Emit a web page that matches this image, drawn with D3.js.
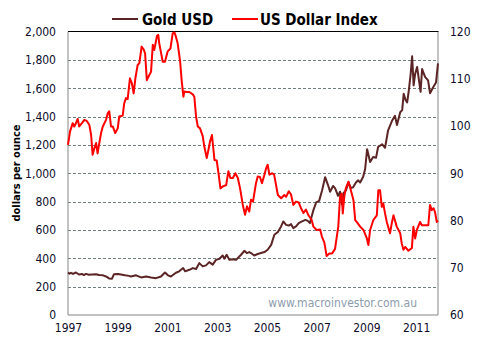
<!DOCTYPE html>
<html><head><meta charset="utf-8">
<script src="https://cdn.jsdelivr.net/npm/d3@7"></script>
<style>
html,body{margin:0;padding:0;background:#fff;}
svg text{font-family:"DejaVu Sans Condensed","DejaVu Sans",sans-serif;}
</style></head>
<body><svg id="c" width="484" height="345"></svg>
<script>
const goldDates = [1997.00,1997.06,1997.12,1997.20,1997.32,1997.44,1997.56,1997.64,1997.72,1997.84,1997.97,1998.13,1998.25,1998.41,1998.53,1998.65,1998.77,1998.85,1999.01,1999.13,1999.29,1999.45,1999.53,1999.74,1999.94,2000.14,2000.34,2000.54,2000.74,2000.90,2001.02,2001.14,2001.34,2001.47,2001.63,2001.71,2001.88,2002.02,2002.15,2002.28,2002.42,2002.55,2002.68,2002.82,2002.95,2003.09,2003.22,2003.29,2003.38,2003.49,2003.63,2003.76,2003.89,2003.96,2004.09,2004.19,2004.29,2004.36,2004.49,2004.63,2004.76,2004.90,2005.03,2005.17,2005.30,2005.44,2005.57,2005.66,2005.77,2005.88,2005.97,2006.06,2006.17,2006.28,2006.41,2006.55,2006.64,2006.73,2006.79,2006.87,2006.98,2007.10,2007.22,2007.34,2007.46,2007.54,2007.66,2007.74,2007.86,2007.94,2008.01,2008.08,2008.18,2008.28,2008.38,2008.46,2008.58,2008.67,2008.75,2008.87,2008.95,2009.03,2009.15,2009.27,2009.39,2009.47,2009.63,2009.75,2009.87,2010.03,2010.15,2010.23,2010.36,2010.44,2010.50,2010.58,2010.64,2010.70,2010.78,2010.84,2010.90,2010.96,2011.04,2011.12,2011.18,2011.24,2011.36,2011.48,2011.56,2011.68,2011.80,2011.88];
const goldValues = [300,292,298,290,300,286,290,282,290,284,286,288,282,280,272,258,256,288,290,286,280,276,272,280,265,272,265,260,272,300,280,272,298,308,331,308,319,331,324,366,343,350,373,355,389,397,420,397,425,389,394,389,413,425,453,437,444,437,420,430,437,444,460,495,566,585,625,660,636,631,641,613,625,648,660,671,664,648,690,740,795,805,880,972,915,870,910,895,840,870,780,860,880,935,895,900,935,950,935,975,1030,1170,1080,1115,1110,1185,1205,1180,1300,1370,1405,1340,1430,1445,1560,1515,1500,1575,1700,1825,1620,1700,1750,1650,1575,1735,1680,1655,1565,1605,1640,1775];

const usdDates = [1997.00,1997.08,1997.19,1997.25,1997.32,1997.39,1997.45,1997.56,1997.66,1997.75,1997.86,1997.93,1997.99,1998.06,1998.13,1998.19,1998.26,1998.33,1998.40,1998.53,1998.60,1998.66,1998.73,1998.80,1998.90,1999.00,1999.06,1999.20,1999.26,1999.33,1999.40,1999.49,1999.57,1999.64,1999.71,1999.80,1999.87,1999.96,2000.05,2000.10,2000.17,2000.27,2000.34,2000.41,2000.47,2000.58,2000.63,2000.67,2000.81,2000.90,2001.01,2001.12,2001.21,2001.28,2001.34,2001.41,2001.51,2001.57,2001.64,2001.68,2001.78,2001.88,2002.02,2002.08,2002.15,2002.22,2002.31,2002.42,2002.48,2002.58,2002.66,2002.71,2002.79,2002.89,2002.98,2003.06,2003.13,2003.22,2003.36,2003.45,2003.53,2003.63,2003.73,2003.83,2003.92,2004.03,2004.12,2004.20,2004.29,2004.36,2004.44,2004.56,2004.63,2004.72,2004.80,2004.90,2004.97,2005.03,2005.10,2005.21,2005.29,2005.44,2005.57,2005.70,2005.77,2005.88,2005.97,2006.06,2006.17,2006.28,2006.37,2006.47,2006.57,2006.67,2006.80,2006.87,2007.00,2007.14,2007.21,2007.31,2007.40,2007.51,2007.62,2007.74,2007.81,2007.87,2007.94,2008.01,2008.05,2008.11,2008.17,2008.28,2008.41,2008.48,2008.55,2008.61,2008.75,2008.88,2009.02,2009.08,2009.15,2009.28,2009.42,2009.48,2009.55,2009.62,2009.68,2009.75,2009.82,2009.95,2010.02,2010.09,2010.22,2010.36,2010.42,2010.49,2010.56,2010.69,2010.83,2010.89,2010.96,2011.03,2011.16,2011.23,2011.36,2011.49,2011.56,2011.63,2011.70,2011.76,2011.83,2011.88];
const usdValues = [96.0,98.8,100.6,99.9,100.6,101.5,99.9,100.6,101.3,101.1,100.2,98.1,93.9,95.3,96.4,94.2,96.4,98.5,99.9,101.3,102.7,103.1,99.9,99.9,98.5,99.5,102.0,102.2,104.8,105.9,105.7,110.1,109.0,106.9,110.1,112.9,113.3,116.8,116.1,115.4,109.7,110.8,111.5,117.2,116.1,119.1,119.3,117.5,113.6,113.6,115.8,116.4,119.6,119.8,118.9,117.5,113.6,109.7,106.2,107.3,107.2,107.2,106.7,106.2,102.0,99.9,99.5,97.8,95.7,93.2,95.3,96.7,98.1,92.8,92.7,89.7,86.8,87.2,87.5,90.4,89.0,89.0,90.0,89.0,86.8,83.3,81.2,83.0,81.9,84.4,84.0,87.9,89.3,89.2,87.9,89.7,91.1,91.8,89.7,90.0,89.7,85.4,84.7,85.4,85.0,86.2,85.5,83.3,84.0,83.8,82.6,81.6,82.3,81.1,80.1,78.7,78.0,78.1,76.6,75.3,72.5,73.0,73.0,74.0,76.6,78.7,85.0,85.7,81.5,85.0,86.8,88.2,85.7,84.3,80.1,79.7,78.7,78.0,76.2,74.8,78.0,80.1,81.1,86.4,86.4,82.9,83.6,81.5,79.7,77.3,79.4,81.1,78.7,77.3,75.2,73.8,74.4,73.6,74.2,78.7,76.2,78.0,79.7,79.0,79.0,79.0,83.3,82.2,82.6,81.8,79.7,80.0];

const xTicks = [1997,1999,2001,2003,2005,2007,2009,2011];
const leftTicks = [0,200,400,600,800,1000,1200,1400,1600,1800,2000];
const rightTicks = [60,70,80,90,100,110,120];
const seriesNames = ["Gold USD","US Dollar Index"];
const seriesColors = ["#5b2525","#ff0000"];

const svg = d3.select("#c");
const L = 68, R = 438, T = 31.5, B = 315;
const x = d3.scaleLinear().domain([1997, 2011.88]).range([L, R]);
const yL = d3.scaleLinear().domain([0, 2000]).range([B, T]);
const yR = d3.scaleLinear().domain([60, 120]).range([B, T]);
const txtCol = "#0d0d2b";

// gridlines
svg.append("g").selectAll("line").data(leftTicks.filter(d => d > 0 && d < 2000)).join("line")
  .attr("x1", L).attr("x2", R).attr("y1", d => Math.round(yL(d)) + 0.5).attr("y2", d => Math.round(yL(d)) + 0.5)
  .attr("stroke", "#6f7f7f").attr("stroke-width", 1).attr("stroke-dasharray", "3,2");

// plot border
svg.append("line").attr("x1", L).attr("x2", L).attr("y1", T).attr("y2", B).attr("stroke", "#868686");
svg.append("line").attr("x1", R).attr("x2", R).attr("y1", T).attr("y2", B).attr("stroke", "#868686");
svg.append("line").attr("x1", L).attr("x2", R).attr("y1", B).attr("y2", B).attr("stroke", "#868686");
svg.append("line").attr("x1", L).attr("x2", R + 0.5).attr("y1", T).attr("y2", T).attr("stroke", "#000");

// axes
const axL = svg.append("g").attr("transform", `translate(${L},0)`)
  .call(d3.axisLeft(yL).tickValues(leftTicks).tickSize(0).tickPadding(12).tickFormat(d3.format(",")));
const axR = svg.append("g").attr("transform", `translate(${R},0)`)
  .call(d3.axisRight(yR).tickValues(rightTicks).tickSize(0).tickPadding(12).tickFormat(d3.format("d")));
const axX = svg.append("g").attr("transform", `translate(0,${B})`)
  .call(d3.axisBottom(x).tickValues(xTicks).tickSize(0).tickPadding(8).tickFormat(d3.format("d")));
[axL, axR, axX].forEach(a => {
  a.select(".domain").remove();
  a.selectAll("text").attr("font-size", 12).attr("fill", txtCol)
    .style("font-family", '"DejaVu Sans Condensed","DejaVu Sans",sans-serif');
});

// watermark
svg.append("text").attr("x", 417).attr("y", 307).attr("text-anchor", "end")
  .attr("font-size", 12).attr("fill", "#8d9cad").text("www.macroinvestor.com.au");

// lines
const goldData = goldDates.map((d, i) => [d, goldValues[i]]);
const usdData = usdDates.map((d, i) => [d, usdValues[i]]);
svg.append("path").datum(goldData)
  .attr("d", d3.line().x(d => x(d[0])).y(d => yL(d[1])))
  .attr("fill", "none").attr("stroke", seriesColors[0]).attr("stroke-width", 2).attr("stroke-linejoin", "round");
svg.append("path").datum(usdData)
  .attr("d", d3.line().x(d => x(d[0])).y(d => yR(d[1])))
  .attr("fill", "none").attr("stroke", seriesColors[1]).attr("stroke-width", 2).attr("stroke-linejoin", "round");

// y title
svg.append("text").attr("transform", "translate(20,173) rotate(-90)").attr("text-anchor", "middle")
  .attr("font-size", 11).attr("font-weight", "bold").attr("fill", "#000").text("dollars per ounce");

// legend
const leg = [{x1: 112, x2: 138, tx: 142}, {x1: 232, x2: 258, tx: 260}];
leg.forEach((p, i) => {
  svg.append("line").attr("x1", p.x1).attr("x2", p.x2).attr("y1", 19).attr("y2", 19)
    .attr("stroke", seriesColors[i]).attr("stroke-width", 2);
  svg.append("text").attr("x", p.tx).attr("y", 25).attr("font-size", 15).attr("font-weight", "bold")
    .attr("fill", "#000").text(seriesNames[i]);
});
</script></body></html>
